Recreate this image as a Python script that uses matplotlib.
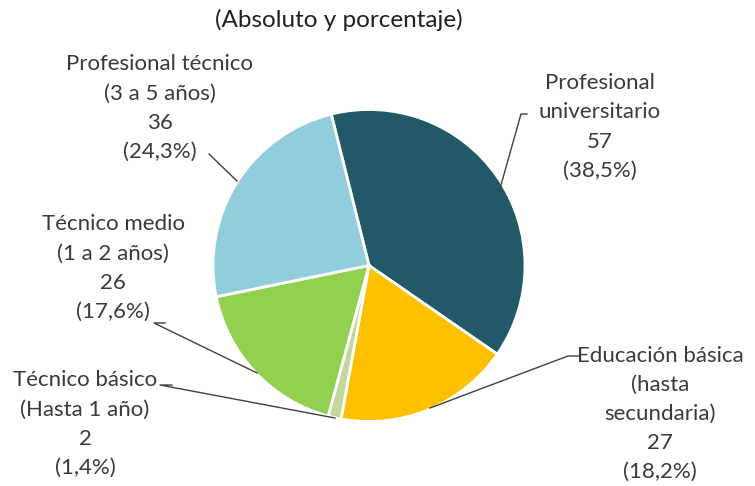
import matplotlib
matplotlib.use("Agg")
import matplotlib.pyplot as plt
from matplotlib import font_manager

W, H = 755, 486

labels = [
    "Profesional\nuniversitario",
    "Educación básica\n(hasta\nsecundaria)",
    "Técnico básico\n(Hasta 1 año)",
    "Técnico medio\n(1 a 2 años)",
    "Profesional técnico\n(3 a 5 años)",
]
values = [57, 27, 2, 26, 36]
percents = ["38,5%", "18,2%", "1,4%", "17,6%", "24,3%"]
colors = ["#215968", "#FFC000", "#C4D79B", "#92D050", "#92CDDC"]

# label centre (px) and leader line: text end -> pie edge (px)
label_pos = [(600, 127), (660, 414), (85, 424), (113, 268), (160, 108)]
leaders = [
    [(527, 114), (521, 114), (499, 192)],
    [(580, 356), (568, 356), (430, 408)],
    [(172, 385), (160, 385), (335, 418)],
    [(165, 323), (154, 323), (257, 373)],
    [(209, 154), (209, 154), (237, 181)],
]

names = {f.name for f in font_manager.fontManager.ttflist}
family = [f for f in ["Lato", "Open Sans", "DejaVu Sans"] if f in names]
plt.rcParams["font.family"] = family

fig = plt.figure(figsize=(W / 100, H / 100), dpi=100)
ax = fig.add_axes([0, 0, 1, 1])

cx, cy, r = 369, H - 265.5, 156
ax.pie(
    values,
    colors=colors,
    startangle=104,
    counterclock=False,
    center=(cx, cy),
    radius=r,
    wedgeprops={"edgecolor": "white", "linewidth": 2},
)
ax.set_xlim(0, W)
ax.set_ylim(0, H)
ax.set_aspect("equal")
ax.axis("off")

text_color = "#3a3a3a"
for lab, v, p, (x, y) in zip(labels, values, percents, label_pos):
    ax.text(
        x, H - y, f"{lab}\n{v}\n({p})",
        ha="center", va="center", fontsize=16, color=text_color,
        linespacing=1.57,
    )

for pts in leaders:
    xs = [p[0] for p in pts]
    ys = [H - p[1] for p in pts]
    ax.plot(xs, ys, color="#404040", linewidth=1)

fig.text(339 / W, 1 - 20 / H, "(Absoluto y porcentaje)", ha="center", va="center",
         fontsize=17.5, color="#202020")

fig.savefig("out.png", dpi=100, facecolor="white")
